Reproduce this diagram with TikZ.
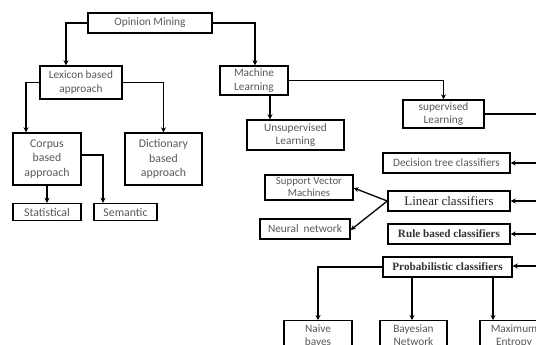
\documentclass[tikz,border=0pt]{standalone}
\usepackage{fontspec}
\setmainfont{Carlito}
\newfontfamily\serifb{Liberation Serif}
\usetikzlibrary{arrows.meta}
\tikzset{
  box/.style={draw=black, line width=1.4pt, fill=white, inner sep=0pt, align=center, text=black!65, font=\fontsize{11.3}{13.5}\selectfont},
  arr/.style={line width=1.3pt, -{Stealth[length=5pt,width=5pt]}},
  ln/.style={line width=1.3pt}
}
\begin{document}
\begin{tikzpicture}[x=1pt,y=-1pt]
\useasboundingbox (0,0) rectangle (536,345);
\clip (0,0) rectangle (536,345);
\node[box, minimum width=124pt, minimum height=20pt] (om) at (150,23) {Opinion Mining};
\node[box, minimum width=82pt, minimum height=33pt] (lex) at (81,82.5) {Lexicon based\\approach};
\node[box, minimum width=68pt, minimum height=29pt] (ml) at (254,80.5) {Machine\\Learning};
\node[box, minimum width=68pt, minimum height=52pt, font=\fontsize{11.8}{14.5}\selectfont] (corpus) at (47,159) {Corpus\\based\\approach};
\node[box, minimum width=77pt, minimum height=52pt, font=\fontsize{11.8}{14.5}\selectfont] (dict) at (163.5,159) {Dictionary\\based\\approach};
\node[box, minimum width=68pt, minimum height=17pt, font=\fontsize{11.8}{14}\selectfont] (stat) at (47,212) {Statistical};
\node[box, minimum width=63pt, minimum height=17pt, font=\fontsize{11.8}{14}\selectfont] (sem) at (125.5,212) {Semantic};
\node[box, minimum width=97pt, minimum height=30pt] (unsup) at (295.5,135) {Unsupervised\\Learning};
\node[box, minimum width=81pt, minimum height=28pt] (sup) at (443.5,114) {supervised\\Learning};
\node[box, minimum width=127pt, minimum height=20pt] (dt) at (446.5,163) {Decision tree classifiers};
\node[box, minimum width=122pt, minimum height=20pt, font=\serifb\fontsize{13}{15}\selectfont, text=black!85] (lin) at (449,201) {Linear classifiers};
\node[box, minimum width=122pt, minimum height=20pt, font=\serifb\bfseries\fontsize{11.2}{13}\selectfont, text=black!80] (rule) at (449,234) {Rule based classifiers};
\node[box, minimum width=129pt, minimum height=20pt, font=\serifb\bfseries\fontsize{11.2}{13}\selectfont, text=black!80] (prob) at (447.5,267) {Probabilistic classifiers};
\node[box, minimum width=88pt, minimum height=25pt, font=\fontsize{10.8}{12}\selectfont] (svm) at (309,187.5) {Support Vector\\Machines};
\node[box, minimum width=90pt, minimum height=20pt] (nn) at (305,229) {Neural\ \ network};
\node[box, minimum width=68pt, minimum height=44pt, anchor=north] (naive) at (318,320) {Naive\\bayes\\[2pt]};
\node[box, minimum width=67pt, minimum height=44pt, anchor=north] (bayes) at (413.5,320) {Bayesian\\Network\\[2pt]};
\node[box, minimum width=68pt, minimum height=44pt, anchor=north] (maxent) at (514,320) {Maximum\\Entropy\\[2pt]};
\coordinate (r1) at (545,114);
\coordinate (r2) at (545,163);
\coordinate (r3) at (545,201);
\coordinate (r4) at (545,234);
\coordinate (r5) at (545,266);
% connectors
\draw[arr] (om.west) -| ([xshift=-15pt]lex.north);
\draw[arr] (om.east) -| ([xshift=1pt]ml.north);
\draw[arr] (lex.west) -| ([xshift=-21pt]corpus.north);
\draw[arr] (lex.east) -| (dict.north);
\draw[arr] (corpus.south) -- (stat.north);
\draw[arr] ([yshift=4pt]corpus.east) -| ([xshift=-22.5pt]sem.north);
\draw[arr] ([xshift=16pt]ml.south) -- ([xshift=16pt]ml.south |- unsup.north);
\draw[arr] (ml.east) -| (sup.north);
\draw[ln] (sup.east) -- (r1);
\draw[arr] (r2) -- (dt.east);
\draw[arr] (r3) -- (lin.east);
\draw[arr] (r4) -- (rule.east);
\draw[arr] (r5) -- ([yshift=1pt]prob.east);
\draw[arr] (lin.west) -- ([yshift=-0.5pt]svm.east);
\draw[arr] (lin.west) -- ([yshift=-1pt]nn.east);
\draw[arr] (prob.west) -| (naive.north);
\draw[arr] ([xshift=-1.5pt]bayes.north |- prob.south) -- ([xshift=-1.5pt]bayes.north);
\draw[arr] ([xshift=-21pt]maxent.north |- prob.south) -- ([xshift=-21pt]maxent.north);
\end{tikzpicture}
\end{document}
